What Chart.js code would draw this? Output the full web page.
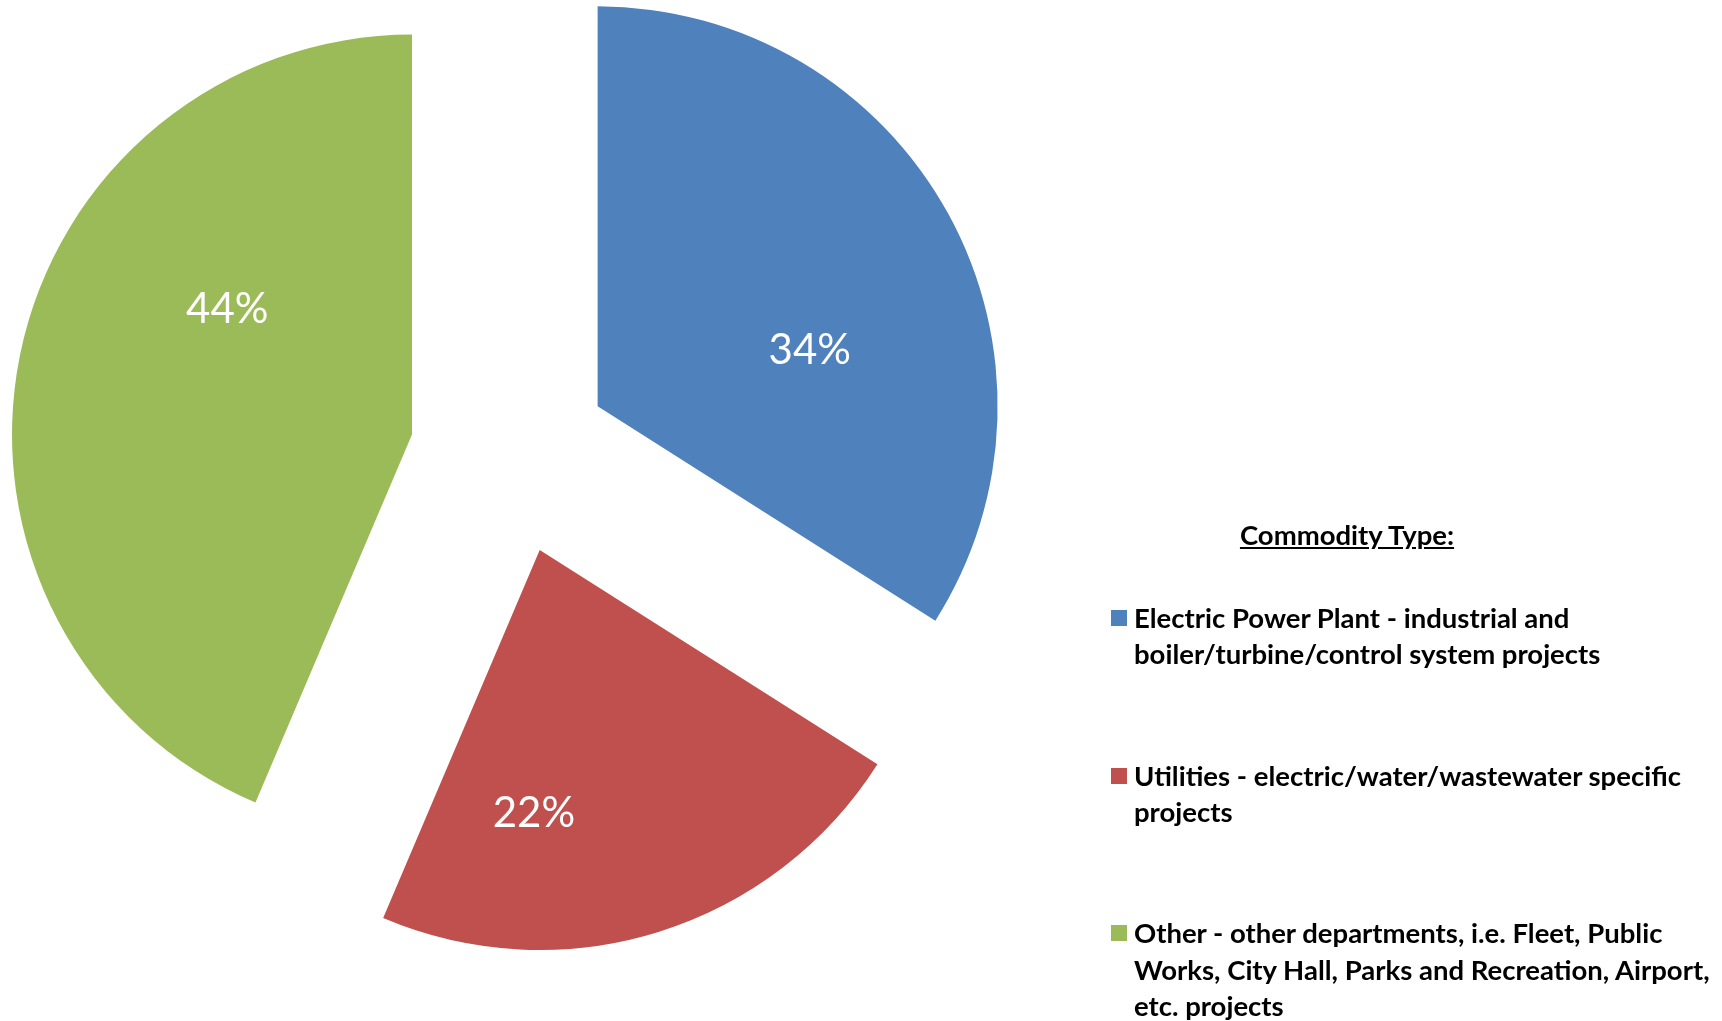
<!DOCTYPE html>
<html>
<head>
<meta charset="utf-8">
<script src="https://cdn.jsdelivr.net/npm/chart.js"></script>
<style>
  html, body { margin: 0; padding: 0; background: #fff; }
  #wrap { position: relative; width: 1722px; height: 1021px; overflow: hidden; }
  #pie { position: absolute; left: 0; top: 0; }
  #legend { position: absolute; left: 0; top: 0; font-family: Lato, sans-serif; font-weight: bold; color: #000; font-size: 27.5px; line-height: 36.2px; }
  #legend .title { position: absolute; left: 1239px; top: 517px; width: 216px; text-align: center; text-decoration: underline; white-space: nowrap; }
  #legend .item { position: absolute; left: 1134px; white-space: nowrap; }
  #legend .box { position: absolute; left: -23px; top: 10px; width: 16px; height: 16px; }
</style>
</head>
<body>
<div id="wrap">
  <canvas id="pie" width="1722" height="1021"></canvas>
  <div id="legend"></div>
</div>
<script>
const categories = [
    ['Electric Power Plant - industrial and', 'boiler/turbine/control system projects'],
    ['Utilities - electric/water/wastewater specific', 'projects'],
    ['Other - other departments, i.e. Fleet, Public', 'Works, City Hall, Parks and Recreation, Airport,', 'etc. projects']
];
const values = [34, 22.4, 43.6];
const colors = ['#4F81BD', '#C0504D', '#9BBB59'];
const legendTitle = 'Commodity Type:';

// where each % label sits: fraction along the slice angle, fraction of radius
const labelSpots = [[0.61, 0.55], [0.73, 0.655], [0.646, 0.56]];
const explodeBy = 100;

const explode = {
    id: 'explode',
    afterDatasetUpdate(chart, args) {
        args.meta.data.forEach(arc => {
            const mid = (arc.startAngle + arc.endAngle) / 2;
            arc.x += Math.cos(mid) * explodeBy;
            arc.y += Math.sin(mid) * explodeBy;
        });
    }
};

const pctLabels = {
    id: 'pctLabels',
    afterDatasetsDraw(chart) {
        const meta = chart.getDatasetMeta(0);
        const total = values.reduce((a, b) => a + b, 0);
        const c = chart.ctx;
        c.save();
        c.fillStyle = '#fff';
        c.font = '42px Lato, sans-serif';
        c.textAlign = 'center';
        c.textBaseline = 'middle';
        meta.data.forEach((arc, i) => {
            const a = arc.startAngle + (arc.endAngle - arc.startAngle) * labelSpots[i][0];
            const r = arc.outerRadius * labelSpots[i][1];
            c.fillText(Math.round(values[i] / total * 100) + '%', arc.x + Math.cos(a) * r, arc.y + Math.sin(a) * r + 2);
        });
        c.restore();
    }
};

new Chart(document.getElementById('pie'), {
    type: 'pie',
    data: {
        labels: categories,
        datasets: [{
            data: values,
            backgroundColor: colors,
            borderWidth: 0
        }]
    },
    options: {
        responsive: false,
        animation: false,
        radius: 400,
        layout: { padding: { left: 0, top: 0, right: 702, bottom: 112 } },
        plugins: {
            legend: { display: false },
            tooltip: { enabled: false }
        }
    },
    plugins: [explode, pctLabels]
});

// legend built from the same arrays
const leg = document.getElementById('legend');
const t = document.createElement('div');
t.className = 'title';
t.textContent = legendTitle;
leg.appendChild(t);
categories.forEach((lines, i) => {
    const d = document.createElement('div');
    d.className = 'item';
    d.style.top = (600 + i * 157.7) + 'px';
    const b = document.createElement('span');
    b.className = 'box';
    b.style.background = colors[i];
    d.appendChild(b);
    lines.forEach((ln, k) => {
        if (k) d.appendChild(document.createElement('br'));
        d.appendChild(document.createTextNode(ln));
    });
    leg.appendChild(d);
});
</script>
</body>
</html>
